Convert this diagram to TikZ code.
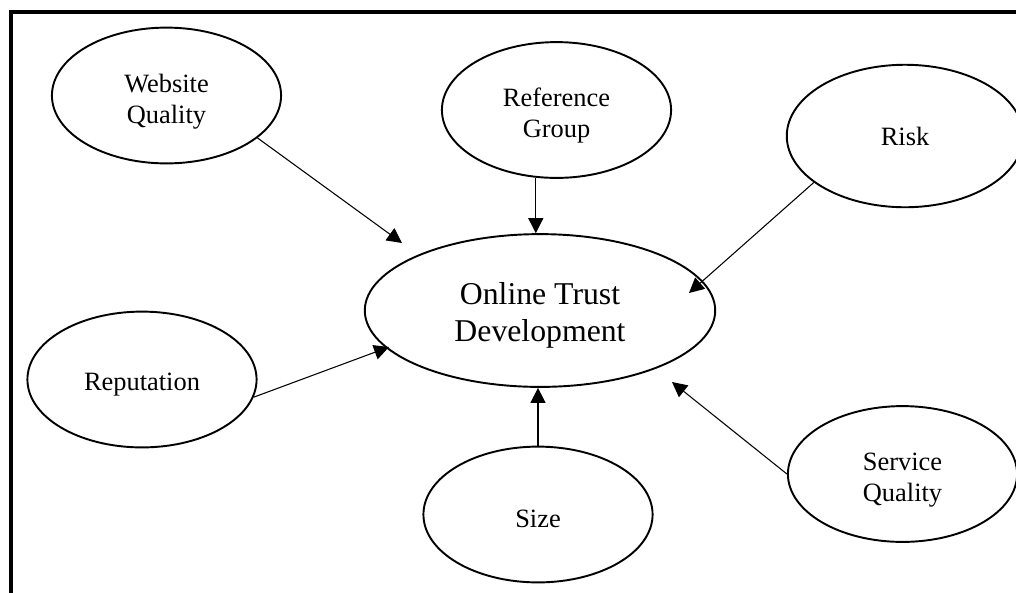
\documentclass[tikz,border=0pt]{standalone}
\usepackage{fontspec}
\setmainfont{Liberation Serif}
\usetikzlibrary{shapes.geometric,arrows.meta}

\tikzstyle{bubble}=[ellipse,draw,line width=0.9pt,inner sep=0pt,align=center]
\tikzstyle{factor}=[bubble,minimum width=3.78cm,minimum height=2.24cm,font=\fontsize{12.4}{14.5}\selectfont]
\tikzstyle{core}=[bubble,minimum width=5.78cm,minimum height=2.52cm,font=\fontsize{14.9}{17.5}\selectfont]
% a strut on top pushes the label a bit down inside its ellipse
\tikzset{drop/.style={execute at begin node={\rule{0pt}{#1}}}}

\begin{document}
\begin{tikzpicture}[x=0.0165cm,y=-0.0165cm,>={Triangle[length=7pt,width=7pt]},line width=0.5pt]
  \useasboundingbox (0,0) rectangle (1016,592);
  \draw[line width=1.9pt] (11.3,12) rectangle (1040,620);

  \node (otd) [core,drop=32.4pt] at (540,310.5) {Online Trust\\Development};
  \node (web) [factor,drop=28.6pt] at (166.5,95.5) {Website\\Quality};
  \node (ref) [factor,drop=28.6pt] at (556.5,110) {Reference\\Group};
  \node (risk) [factor,minimum width=3.9cm,minimum height=2.35cm] at (905,136) {Risk};
  \node (rep) [factor,drop=12.5pt] at (142,379.5) {Reputation};
  \node (size) [factor,drop=12.5pt] at (538,514.5) {Size};
  \node (svc) [factor,drop=28.6pt] at (902.5,474) {Service\\Quality};

  % arrow ends around the central ellipse
  \coordinate (webIn) at (402,243);
  \coordinate (riskIn) at (689,293);
  \coordinate (repIn) at (389,347);
  \coordinate (svcIn) at (672,382);

  \path[->]
  (web.-25) edge (webIn)
  (ref.-107) edge (ref.-107 |- otd.north)
  (risk.-153) edge (riskIn)
  (rep.-9) edge (repIn)
  (size.north) edge (size.north |- otd.south)
  (svc.west) edge (svcIn);
\end{tikzpicture}
\end{document}
